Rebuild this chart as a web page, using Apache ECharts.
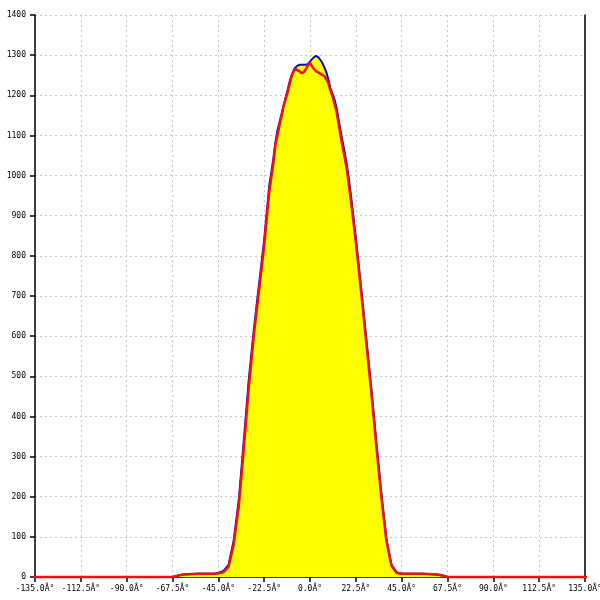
<!DOCTYPE html>
<html><head><meta charset="utf-8">
<script src="https://cdn.jsdelivr.net/npm/echarts@6/dist/echarts.min.js"></script>
<style>html,body{margin:0;padding:0;background:#fff}#c{width:600px;height:600px}</style>
</head><body><div id="c"></div>
<script>
const angles = [-160,-67.5,-65,-62.5,-60,-55,-50,-47.5,-45,-42.5,-40,-37.5,-35,-32.5,-30,-27.5,-25,-22.5,
  -20,-19,-18,-17,-16,-15,-14,-13,-12,-11,-10,-9,-8,-7,-6,-5,-4,-3,-2,-1,0,1,2,3,4,5,6,7,8,9,10,11,12,13,14,15,16,17,18,19,20,
  22.5,25,27.5,30,32.5,35,37.5,40,42.5,45,50,55,60,62.5,65,67.5,160];
const blueValues = [0,0,3,6,7,8,8,8,10,15,30,90,190,340,495,620,730,840,
  975,1008,1042,1082,1112,1132,1152,1174,1193,1213,1234,1250,1263,1270,1274,1276,1276,1276,1276,1278,1284,1290,1295,1298,1295,1289,1281,1270,1258,1240,1218,1205,1190,1170,1140,1112,1085,1058,1030,995,955,
  845,725,600,475,340,210,95,30,12,8,8,8,7,6,4,0,0];
const redValues = [0,0,3,6,7,8,8,8,9,12,25,80,175,320,475,605,715,825,
  960,995,1030,1075,1100,1125,1148,1172,1190,1208,1228,1248,1260,1265,1262,1259,1255,1258,1265,1275,1281,1272,1265,1260,1257,1254,1251,1248,1240,1231,1212,1198,1180,1160,1130,1100,1072,1045,1018,980,940,
  835,715,590,465,330,200,90,28,10,8,8,8,7,6,4,0,0];
const xMin = -135, xMax = 135, xStep = 22.5;
const yMin = 0, yMax = 1400, yStep = 100;

const chart = echarts.init(document.getElementById('c'), null, {renderer:'canvas'});
const font = 'DejaVu Sans Mono';
chart.setOption({
  animation:false,
  backgroundColor:'#fff',
  grid:{left:35,right:15,top:15,bottom:23,containLabel:false,outerBoundsMode:'none'},
  xAxis:{type:'value',min:xMin,max:xMax,interval:xStep,
    axisLine:{show:true,onZero:false,lineStyle:{color:'#000',width:1.5}},
    axisTick:{show:true,length:5,lineStyle:{color:'#000',width:1.5}},
    axisLabel:{fontFamily:font,fontSize:8,color:'#000',margin:8,hideOverlap:false,
      formatter:v=>v.toFixed(1)+'Â°'},
    splitLine:{show:true,lineStyle:{color:'#c8c8c8',type:[2,3],width:1}}},
  yAxis:[{type:'value',min:yMin,max:yMax,interval:yStep,position:'left',
    axisLine:{show:true,onZero:false,lineStyle:{color:'#000',width:1.5}},
    axisTick:{show:true,length:5,lineStyle:{color:'#000',width:1.5}},
    axisLabel:{fontFamily:font,fontSize:8,color:'#000',margin:9,formatter:v=>String(v)},
    splitLine:{show:true,lineStyle:{color:'#c8c8c8',type:[2,3],width:1}}},
    {type:'value',position:'right',min:yMin,max:yMax,interval:yStep,
    axisLine:{show:true,onZero:false,lineStyle:{color:'#000',width:1.5}},
    axisTick:{show:false},axisLabel:{show:false},splitLine:{show:false}}],
  series:[
    {type:'line',name:'blue',data:angles.map((a,i)=>[a,blueValues[i]]),
      showSymbol:false,clip:false,smooth:false,
      lineStyle:{color:'#0a0ac8',width:2},
      areaStyle:{color:'#ffff00',opacity:1},z:2},
    {type:'line',name:'red',data:angles.map((a,i)=>[a,redValues[i]]),
      showSymbol:false,clip:false,smooth:false,
      lineStyle:{color:'#ee1111',width:2.5},z:3}
  ]
});
</script></body></html>
